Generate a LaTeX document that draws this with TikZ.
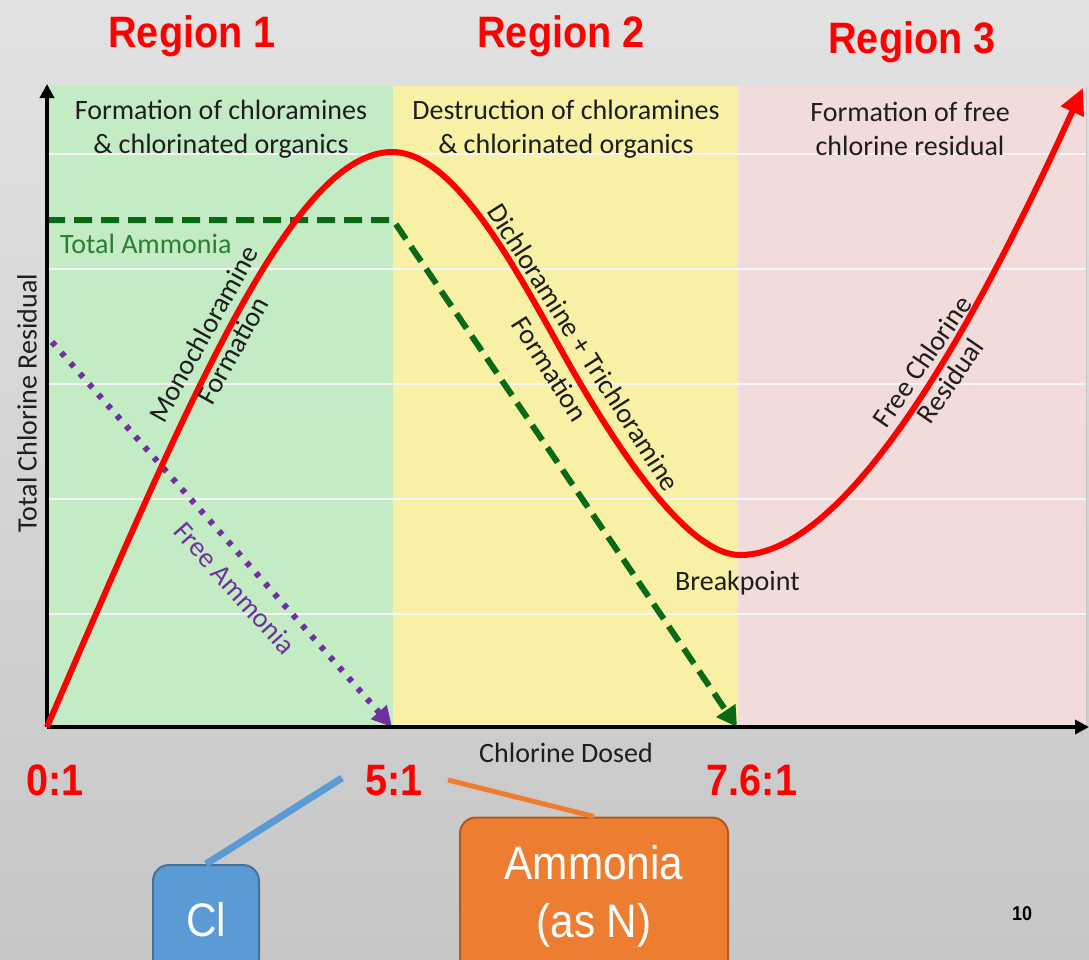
\documentclass[tikz,border=0pt]{standalone}
\usepackage{graphicx}
\usepackage{fontspec}
\setmainfont{Carlito}
\newfontfamily\nfont{Liberation Sans}
\usetikzlibrary{arrows.meta}
\definecolor{panelgreen}{RGB}{195,235,196}
\definecolor{panelyellow}{RGB}{247,240,165}
\definecolor{panelpink}{RGB}{242,219,219}
\definecolor{curvered}{RGB}{255,0,0}
\definecolor{ammgreen}{RGB}{10,105,20}
\definecolor{ammtext}{RGB}{40,128,48}
\definecolor{freepurple}{RGB}{112,48,160}
\definecolor{clblue}{RGB}{91,155,213}
\definecolor{clbluedark}{RGB}{65,113,156}
\definecolor{amorange}{RGB}{237,125,49}
\definecolor{amorangedark}{RGB}{174,90,33}
\definecolor{bgtop}{RGB}{226,226,226}
\definecolor{bgbot}{RGB}{198,198,198}
\definecolor{textgray}{RGB}{30,30,30}
\definecolor{gridwhite}{RGB}{245,245,245}
\newcommand{\nar}[1]{\scalebox{0.9}[1]{#1}}
\begin{document}
\begin{tikzpicture}[x=1pt,y=-1pt,
  lbl/.style={font=\fontsize{28}{34}\selectfont, text=textgray, inner sep=0pt, align=center},
  region/.style={font={\nfont\bfseries\fontsize{44}{50}\selectfont}, text=curvered, inner sep=0pt},
  gridline/.style={draw=gridwhite, line width=2.5pt},
  axisline/.style={draw=black, line width=4pt, -{Triangle[length=14pt,width=14pt]}},
  redcurve/.style={draw=curvered, line width=6pt, -{Triangle[length=26pt,width=24pt]}},
  ammline/.style={draw=ammgreen, line width=6pt, dash pattern=on 18pt off 9pt, -{Triangle[length=20pt,width=22pt]}},
  freeline/.style={draw=freepurple, line width=6pt, dash pattern=on 5pt off 9pt, -{Triangle[length=20pt,width=20pt]}},
  bigbox/.style={rounded corners=16pt, line width=2pt, text=white, inner sep=0pt, align=center, font={\nfont\fontsize{47}{58}\selectfont}},
]
\useasboundingbox (0,0) rectangle (1089,959);
\clip (0,0) rectangle (1089,959);
% background
\fill[top color=bgtop, bottom color=bgbot] (0,0) rectangle (1089,959);
% panels
\fill[panelgreen] (47,86) rectangle (393,727);
\fill[panelyellow] (393,86) rectangle (738,727);
\fill[panelpink] (738,86) rectangle (1086,727);
\draw[gray!45, line width=1pt] (1086,86) -- (1086,727);
\foreach \yy in {154,269,384,499,614} \draw[gridline] (47,\yy) -- (1086,\yy);

% region titles
\node[region, anchor=base] (reg1) at (192,47) {\nar{Region 1}};
\node[region, anchor=base] (reg2) at (561,47) {\nar{Region 2}};
\node[region, anchor=base] (reg3) at (912,53) {\nar{Region 3}};

% headers
\node[lbl] (h1) at (221,129) {Formation of chloramines\\\& chlorinated organics};
\node[lbl] (h2) at (566,129) {Destruction of chloramines\\\& chlorinated organics};
\node[lbl] (h3) at (910,129) {Formation of free\\chlorine residual};

% coordinates
\coordinate (O) at (47,727);
\coordinate (ytop) at (47,84);
\coordinate (xend) at (1089,727);
\coordinate (peak) at (392,152);
\coordinate (infl) at (580,383);
\coordinate (brk) at (740,555);
\coordinate (redend) at (1083,88);
\coordinate (ta0) at (47,220);
\coordinate (ta1) at (393,220);
\coordinate (ta2) at (737,727);
\coordinate (fa0) at (52,342);
\coordinate (fa1) at (392,727);

% lines
\draw[freeline] (fa0) -- (fa1);
\draw[ammline] (ta0) -- (ta1) -- (ta2);
\draw[axisline] (O) -- (ytop);
\draw[axisline] (O) -- (xend);
\draw[redcurve] (O) .. controls (186,406) and (292,152) .. (peak)
  .. controls (462,152) and (529.3,296.8) .. (infl)
  .. controls (635.8,477.8) and (695,555) .. (brk)
  .. controls (860,555) and (1000,270) .. (redend);

% curve labels
\node[lbl, rotate=61] (mono) at (218,342) {Monochloramine\\Formation};
\node[lbl, rotate=-57.5, font=\fontsize{28}{40}\selectfont] (di) at (567,358) {Dichloramine + Trichloramine\\Formation};
\node[lbl, rotate=55.4] (fc) at (936,371) {Free Chlorine\\Residual};
\node[lbl, rotate=-48.3, text=freepurple] (fam) at (235,588) {Free Ammonia};
\node[lbl, anchor=base west, text=ammtext] (tam) at (60,253) {Total Ammonia};
\node[lbl, anchor=base west] (bp) at (675,590) {Breakpoint};

% axis labels
\node[lbl, rotate=90] (ylab) at (27,403) {Total Chlorine Residual};
\node[lbl, anchor=base] (xlab) at (566,762) {Chlorine Dosed};

% ratios
\node[region, anchor=base] (r0) at (55,795) {\nar{0:1}};
\node[region, anchor=base] (r5) at (394,795) {\nar{5:1}};
\node[region, anchor=base] (r76) at (752,795) {\nar{7.6:1}};

% boxes
\node[bigbox, fill=clblue, draw=clbluedark, minimum width=106pt, minimum height=110pt] (cl) at (206,920) {\nar{Cl}};
\node[bigbox, fill=amorange, draw=amorangedark, minimum width=268pt, minimum height=157pt] (am) at (594,896) {\nar{Ammonia}\\\nar{(as N)}};
\coordinate (clend) at (342,778);
\coordinate (amend) at (448,780);
\draw[draw=clblue, line width=7pt] (cl.north) -- (clend);
\draw[draw=amorange, line width=5pt] (amend) -- (am.north);

% page number
\node[font={\nfont\bfseries\fontsize{20}{24}\selectfont}, anchor=base, inner sep=0pt] (pg) at (1022,920) {\nar{10}};
\end{tikzpicture}
\end{document}
